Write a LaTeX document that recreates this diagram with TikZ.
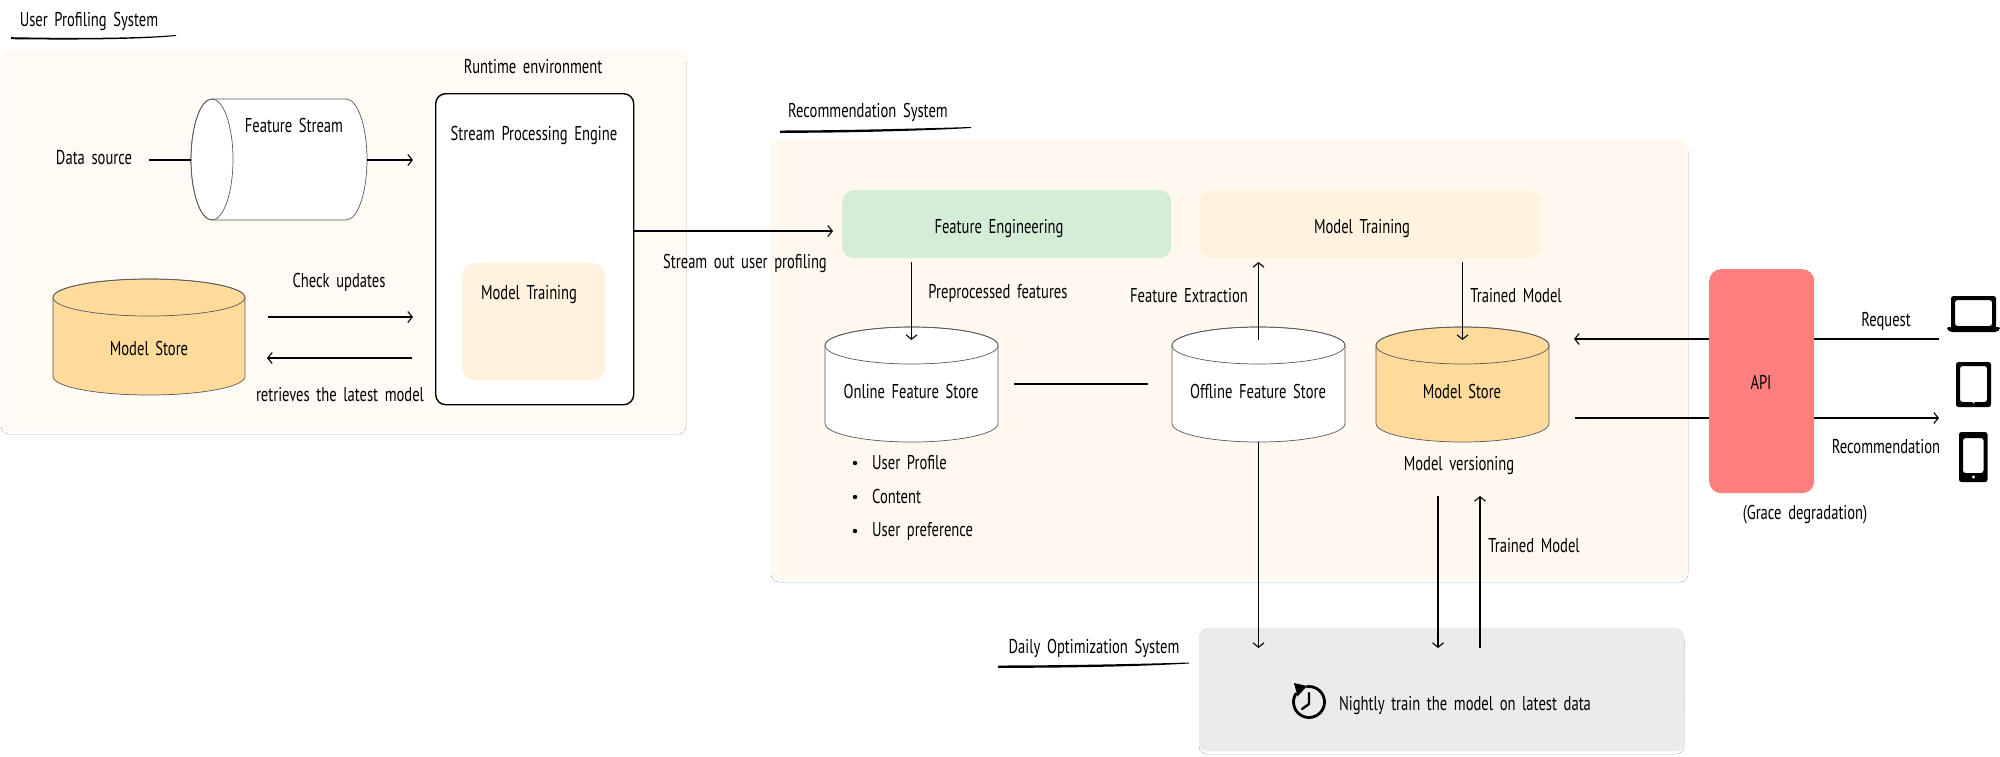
\documentclass[tikz,border=0pt]{standalone}
\usepackage{fontspec}
\setmainfont{PT Sans}[FakeStretch=0.73,WordSpace=1.7]
\usetikzlibrary{arrows.meta,shapes.geometric}
\definecolor{panelA}{HTML}{FFFAF3}
\definecolor{panelB}{HTML}{FFF8EE}
\definecolor{shade}{HTML}{DEDEDE}
\definecolor{trainfill}{HTML}{FFF2DE}
\definecolor{greenfill}{HTML}{D5EDD6}
\definecolor{storefill}{HTML}{FFDB9B}
\definecolor{apifill}{HTML}{FF7F7F}
\definecolor{dailyfill}{HTML}{EBEBEB}
\tikzset{
  txt/.style={font=\fontsize{20}{20}\selectfont,inner sep=0pt,text=black},
  panel/.style={rectangle,rounded corners=8pt,inner sep=0pt,anchor=north west},
  softbox/.style={rectangle,rounded corners=12pt,inner sep=0pt,anchor=north west},
  cylline/.style={draw=black!65,line width=0.7pt},
  conn/.style={line width=1.4pt,draw=black},
  arr/.style={conn,-{Straight Barb[length=4.5pt,width=11pt,line width=1.1pt]}},
  thinarr/.style={arr,line width=1.2pt},
  brush/.style={fill=black,draw=none},
  icon/.style={fill=black,even odd rule,draw=none}
}
% vertical cylinder: name, centre x, top, bottom, half width, ellipse half height, fill
\newcommand{\vcylinder}[7]{%
  \node[rectangle,inner sep=0pt,minimum width=#5*2pt,minimum height=#4pt-#3pt] (#1) at (#2,{(#3+#4)/2}) {};
  \path[fill=#7,cylline] ({#2-#5},{#3+#6}) -- ({#2-#5},{#4-#6})
     arc[start angle=180,end angle=0,x radius=#5,y radius=#6]
     -- ({#2+#5},{#3+#6}) arc[start angle=0,end angle=-180,x radius=#5,y radius=#6] -- cycle;
  \path[cylline] (#2,{#3+#6}) ellipse[x radius=#5,y radius=#6];
}
\begin{document}
\begin{tikzpicture}[x=1pt,y=-1pt]
\useasboundingbox (0,0) rectangle (2000,756);
\fill[white] (0,0) rectangle (2000,756);

% panels with their soft lower edge
\fill[shade,rounded corners=8pt] (1,53) rectangle (686,434);
\node[panel,fill=panelA,minimum width=685pt,minimum height=381pt] (pA) at (1,50) {};
\fill[shade,rounded corners=8pt] (771,143) rectangle (1688,582);
\node[panel,fill=panelB,minimum width=917pt,minimum height=439pt] (pB) at (771,140) {};
\fill[shade,rounded corners=8pt] (1199,631) rectangle (1684,754);
\node[panel,fill=dailyfill,minimum width=485pt,minimum height=123pt] (pC) at (1199,628) {};

% titles
\node[txt] (tA) at (89,21) {User Profiling System};
\fill[brush] (11,37.2) .. controls (80,38.5) and (140,38) .. (176,35) -- (176,36) .. controls (140,39.5) and (80,40) .. (11,39.2) -- cycle;
\node[txt] (tB) at (868,112) {Recommendation System};
\fill[brush] (780,130.5) .. controls (840,130.5) and (920,128.5) .. (971,127) -- (971,128) .. controls (920,131) and (840,133) .. (780,132.8) -- cycle;
\node[txt] (tC) at (1094,648) {Daily Optimization System};
\fill[brush] (998,665.5) .. controls (1060,665.5) and (1140,664) .. (1189,662.5) -- (1189,663.5) .. controls (1140,666.5) and (1060,668) .. (998,667.8) -- cycle;

% user profiling system
\node[txt] (rt) at (533,67) {Runtime environment};
\node[panel,draw=black,fill=white,line width=1.4pt,rounded corners=10pt,minimum width=198pt,minimum height=311pt] (spe) at (435,93) {};
\node[txt] (spel) at (534,135) {Stream Processing Engine};
\node[softbox,fill=trainfill,minimum width=143pt,minimum height=117pt] (mtA) at (462,263) {};
\node[txt] (mtAl) at (529,295) {Model Training};

% horizontal cylinder
\node[rectangle,inner sep=0pt,minimum width=176pt,minimum height=121pt] (fs) at (279,159.5) {};
\path[fill=white,cylline] (212,99) -- (346,99) arc[start angle=-90,end angle=90,x radius=21,y radius=60.5] -- (212,220) arc[start angle=90,end angle=270,x radius=21,y radius=60.5] -- cycle;
\path[cylline] (212,159.5) ellipse[x radius=21,y radius=60.5];
\node[txt] (fsl) at (294,125) {Feature Stream};
\node[txt] (ds) at (94,158) {Data source};
\coordinate (dsR) at (149,160);
\coordinate (fsOut) at (413,160);
\draw[conn] (dsR) -- (fs.west |- dsR);
\draw[arr] (fs.east |- fsOut) -- (fsOut);

\vcylinder{msA}{149}{279}{395}{96}{18.5}{storefill}
\node[txt] (msAl) at (149,348) {Model Store};
\node[txt] (chk) at (339,282) {Check updates};
\node[txt] (ret) at (340,395) {retrieves the latest model};
\coordinate (chkL) at (268,317);
\coordinate (chkR) at (413,317);
\coordinate (retR) at (412,358);
\coordinate (retL) at (267,358);
\draw[arr] (chkL) -- (chkR);
\draw[arr] (retR) -- (retL);

% recommendation system
\node[softbox,fill=greenfill,minimum width=329pt,minimum height=68pt] (fe) at (842,190) {};
\node[txt] (fel) at (999,229) {Feature Engineering};
\node[softbox,fill=trainfill,minimum width=341pt,minimum height=68pt] (mtB) at (1199,190) {};
\node[txt] (mtBl) at (1362,229) {Model Training};
\coordinate (feIn) at (833,231);
\draw[arr] (spe.east |- feIn) -- (feIn);
\node[txt] (so) at (745,263) {Stream out user profiling};

\vcylinder{on}{911.5}{327}{442}{86.5}{18.5}{white}
\node[txt] (onl) at (911,391) {Online Feature Store};
\vcylinder{off}{1258.5}{327}{442}{86.5}{18.5}{white}
\node[txt] (offl) at (1258,391) {Offline Feature Store};
\vcylinder{msB}{1462.5}{327}{442}{86.5}{18.5}{storefill}
\node[txt] (msBl) at (1462,391) {Model Store};

\coordinate (a1s) at (911.5,262);
\coordinate (a1e) at (911.5,340);
\draw[thinarr] (a1s) -- (a1e);
\node[txt] (pp) at (998,293) {Preprocessed features};
\coordinate (a2s) at (1258.5,340);
\coordinate (a2e) at (1258.5,262);
\draw[thinarr] (a2s) -- (a2e);
\node[txt] (fx) at (1189,296) {Feature Extraction};
\coordinate (a3s) at (1462.5,262);
\coordinate (a3e) at (1462.5,340);
\draw[thinarr] (a3s) -- (a3e);
\node[txt] (tm1) at (1516,296) {Trained Model};
\coordinate (lnL) at (1014,384);
\coordinate (lnR) at (1148,384);
\draw[conn] (lnL) -- (lnR);

\fill (855,463) circle (2.2pt);
\fill (855,497) circle (2.2pt);
\fill (855,531) circle (2.2pt);
\node[txt,anchor=west] (b1) at (872,463) {User Profile};
\node[txt,anchor=west] (b2) at (872,496) {Content};
\node[txt,anchor=west] (b3) at (872,531) {User preference};
\node[txt] (mv) at (1459,466) {Model versioning};

% links to the daily system
\coordinate (d1) at (1258.5,648);
\draw[thinarr] (off.south) -- (d1);
\coordinate (d2s) at (1438,496);
\coordinate (d2e) at (1438,648);
\draw[thinarr] (d2s) -- (d2e);
\coordinate (d3s) at (1480,648);
\coordinate (d3e) at (1480,496);
\draw[thinarr] (d3s) -- (d3e);
\node[txt] (tm2) at (1534,546) {Trained Model};

% daily box content
\begin{scope}[shift={(1309,702)},y=1pt]
  \draw[line width=2.8pt] (100:15.5) arc[start angle=100,end angle=-215,radius=15.5];
  \fill (-15,19) -- (-2,16) -- (-11.5,5.5) -- cycle;
  \draw[line width=2.4pt,line cap=round,line join=round] (0,9) -- (0,-2) -- (-7,-7);
\end{scope}
\node[txt] (nt) at (1465,705) {Nightly train the model on latest data};

% API
\node[softbox,fill=apifill,minimum width=105pt,minimum height=224pt] (api) at (1709,269) {};
\node[txt] (apil) at (1761,382) {API};
\node[txt] (gr) at (1805,515) {(Grace degradation)};
\coordinate (reqR) at (1939,339);
\coordinate (reqL) at (1574,339);
\coordinate (recL) at (1575,418);
\coordinate (recR) at (1939,418);
\draw[conn] (reqR) -- (api.east |- reqR);
\draw[arr] (api.west |- reqL) -- (reqL);
\draw[conn] (recL) -- (api.west |- recL);
\draw[arr] (api.east |- recR) -- (recR);
\node[txt] (rq) at (1886,321) {Request};
\node[txt] (rc) at (1886,447) {Recommendation};

% devices
\fill[icon,rounded corners=2.5pt] (1951,296) rectangle (1996,329) (1955,300) rectangle (1992,326);
\fill[icon,rounded corners=2pt] (1947,327) -- (2000,327) -- (2000,329.5) -- (1997,332) -- (1950,332) -- (1947,329.5) -- cycle;
\fill[icon,rounded corners=2.5pt] (1956,362) rectangle (1991,407) (1960,366) rectangle (1987,402);
\fill[white] (1973.5,402.5) circle (1pt);
\fill[icon,rounded corners=2.5pt] (1959,432) rectangle (1987.5,482) (1963,438) rectangle (1983.5,473);
\fill[white] (1973.5,477) circle (1.6pt);
\end{tikzpicture}
\end{document}
